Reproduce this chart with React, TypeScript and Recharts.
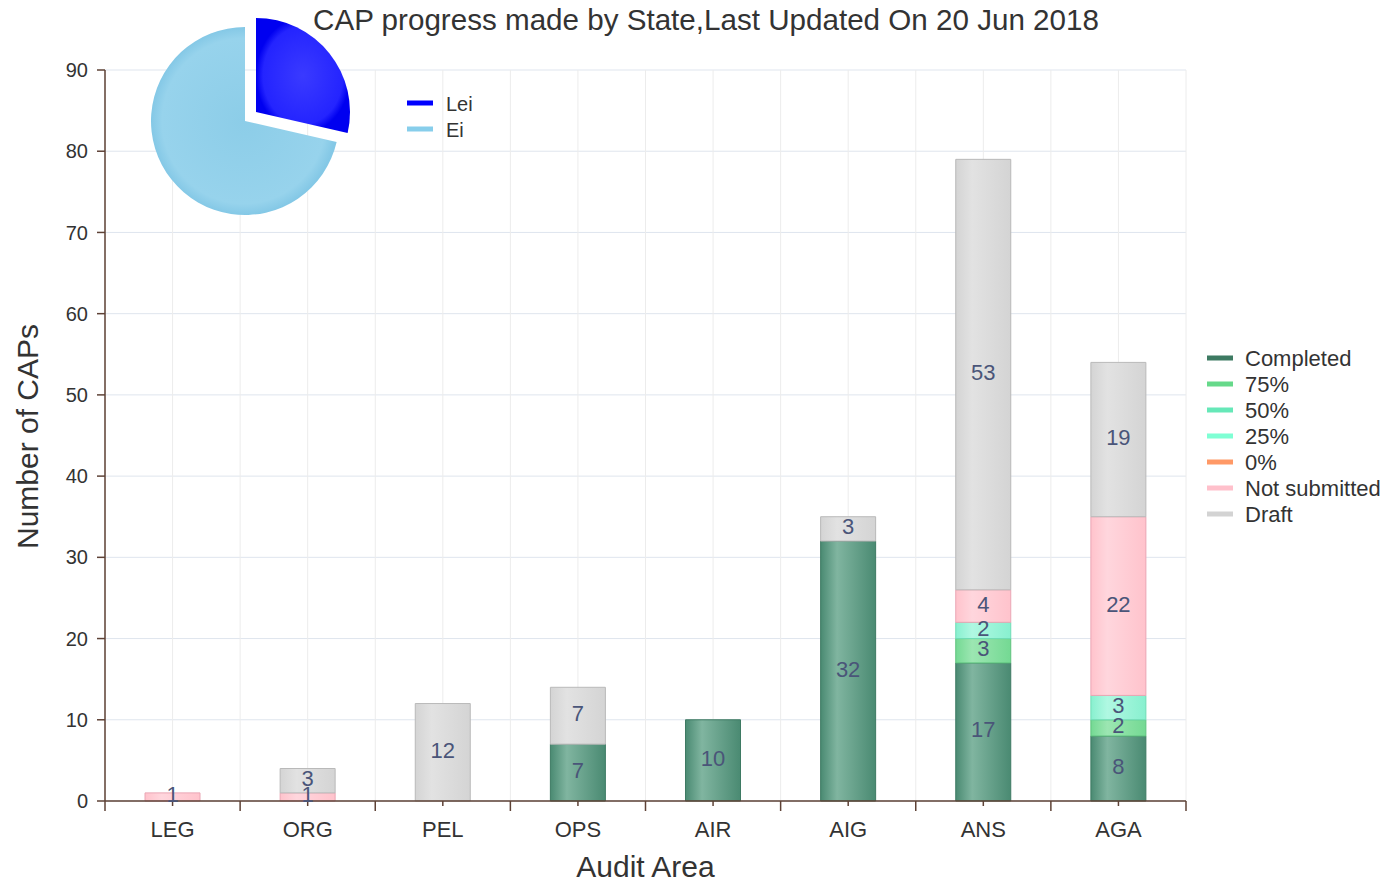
import React from 'react';
import { BarChart, Bar, XAxis, YAxis, CartesianGrid, LabelList, PieChart, Pie, Cell } from 'recharts';

const categories = ['LEG', 'ORG', 'PEL', 'OPS', 'AIR', 'AIG', 'ANS', 'AGA'];
const completed = [0, 0, 0, 7, 10, 32, 17, 8];
const pct75 = [0, 0, 0, 0, 0, 0, 3, 2];
const pct50 = [0, 0, 0, 0, 0, 0, 0, 0];
const pct25 = [0, 0, 0, 0, 0, 0, 2, 3];
const pct0 = [0, 0, 0, 0, 0, 0, 0, 0];
const notSubmitted = [1, 1, 0, 0, 0, 0, 4, 22];
const draft = [0, 3, 12, 7, 0, 3, 53, 19];

const seriesNames = ['Completed', '75%', '50%', '25%', '0%', 'Not submitted', 'Draft'];
const seriesKeys = ['completed', 'p75', 'p50', 'p25', 'p0', 'notSubmitted', 'draft'];
const seriesValues = [completed, pct75, pct50, pct25, pct0, notSubmitted, draft];
const seriesColors = ['#3d7a62', '#66d98a', '#66e8b8', '#7fffd4', '#ff9966', '#ffc0cb', '#d3d3d3'];
const seriesLight = ['#80b5a0', '#9ce6b2', '#9cefd0', '#b0f8e2', '#ffb891', '#ffd6dd', '#e2e2e2'];
const seriesBase = ['#4a8a72', '#74d993', '#70e6bc', '#88f0cf', '#ff9966', '#ffc3cc', '#d4d4d4'];
const seriesStroke = ['#3e7a63', '#5fc27e', '#5fd0a6', '#6fdcb6', '#e88555', '#eaa6b4', '#b9b9b9'];

const yTicks = [0, 10, 20, 30, 40, 50, 60, 70, 80, 90];

const pieNames = ['Lei', 'Ei'];
const pieValues = [2, 5];
const pieColors = ['#0000ff', '#87ceeb'];

const FONT = '"Liberation Sans", Arial, sans-serif';
const AXIS = '#5e4236';
const TEXT = '#333333';
const LABEL = '#4a5579';
const X_TICK_SIZE = 5;
const X_TICK_MARGIN = 15;
const EDGE_TICK = 10;

const table = categories.map((c, i) => {
  const row: any = { category: c };
  seriesKeys.forEach((k, j) => {
    const v = seriesValues[j][i];
    row[k] = v ? v : null;
  });
  return row;
});

const pieData = pieNames.map((n, i) => ({ name: n, value: pieValues[i] }));

const renderLabel = (props: any) => {
  const { value } = props;
  if (!value) return null;
  const vb = props.viewBox || {};
  const x = props.x ?? vb.x;
  const y = props.y ?? vb.y;
  const w = props.width ?? vb.width;
  const h = props.height ?? vb.height;
  return (
    <text
      x={x + w / 2}
      y={y + h / 2 - 2}
      textAnchor="middle"
      dominantBaseline="central"
      fill={LABEL}
      fontSize={22}
      fontFamily={FONT}
    >
      {value}
    </text>
  );
};

const XTick = (props: any) => {
  const { x, y, payload, index, visibleTicksCount } = props;
  const axisY = y - X_TICK_SIZE - X_TICK_MARGIN;
  const off = payload && typeof payload.offset === 'number' ? payload.offset : 0;
  const last = index === (visibleTicksCount ?? categories.length) - 1;
  return (
    <g>
      {off > 0 && (
        <line x1={x - off} y1={axisY} x2={x - off} y2={axisY + EDGE_TICK} stroke={AXIS} strokeWidth={1.5} />
      )}
      {off > 0 && last && (
        <line x1={x + off} y1={axisY} x2={x + off} y2={axisY + EDGE_TICK} stroke={AXIS} strokeWidth={1.5} />
      )}
      <text x={x} y={y} dy="0.71em" textAnchor="middle" fill={TEXT} fontSize={22} fontFamily={FONT}>
        {payload.value}
      </text>
    </g>
  );
};

const YLabel = (props: any) => {
  const vb = props.viewBox || { x: 0, y: 0, width: 0, height: 0 };
  const cx = vb.x + 27;
  const cy = vb.y + vb.height / 2 + 1;
  return (
    <text
      x={cx}
      y={cy}
      transform={`rotate(-90, ${cx}, ${cy})`}
      textAnchor="middle"
      dominantBaseline="central"
      fill={TEXT}
      fontSize={30}
      fontFamily={FONT}
    >
      Number of CAPs
    </text>
  );
};

export default function App() {
  return (
    <div style={{ position: 'absolute', left: 0, top: 0, width: 1385, height: 883, background: '#fff' }}>
      <div style={{ position: 'absolute', left: 0, top: 0 }}>
        <BarChart
          width={1385}
          height={883}
          data={table}
          margin={{ top: 70, right: 199, bottom: 0, left: 0 }}
          barSize={55}
        >
          <defs>
            {seriesKeys.map((k, j) => (
              <linearGradient key={k} id={`grad-${k}`} x1="0" y1="0" x2="1" y2="0">
                <stop offset="0%" stopColor={seriesBase[j]} />
                <stop offset="30%" stopColor={seriesLight[j]} />
                <stop offset="100%" stopColor={seriesBase[j]} />
              </linearGradient>
            ))}
          </defs>
          <CartesianGrid vertical={false} stroke="#dfe5ee" strokeWidth={1} />
          <CartesianGrid
            horizontal={false}
            stroke="#ececec"
            strokeWidth={1}
            verticalCoordinatesGenerator={({ offset }: any) =>
              Array.from(
                { length: categories.length * 2 + 1 },
                (_, i) => offset.left + (i * offset.width) / (categories.length * 2)
              )
            }
          />
          <XAxis
            dataKey="category"
            height={82}
            tickSize={X_TICK_SIZE}
            tickMargin={X_TICK_MARGIN}
            tick={<XTick />}
            tickLine={{ stroke: AXIS, strokeWidth: 1.5 }}
            axisLine={{ stroke: AXIS, strokeWidth: 1.5 }}
            interval={0}
            label={{ value: 'Audit Area', position: 'insideBottom', offset: 6, fill: TEXT, fontSize: 30, fontFamily: FONT }}
          />
          <YAxis
            width={105}
            domain={[0, 90]}
            ticks={yTicks}
            interval={0}
            tickSize={8}
            tickMargin={9}
            tick={{ fill: TEXT, fontSize: 20, fontFamily: FONT }}
            tickLine={{ stroke: AXIS, strokeWidth: 1.5 }}
            axisLine={{ stroke: AXIS, strokeWidth: 1.5 }}
            label={<YLabel />}
          />
          {seriesKeys.map((k, j) => (
            <Bar
              key={k}
              dataKey={k}
              name={seriesNames[j]}
              stackId="cap"
              fill={`url(#grad-${k})`}
              stroke={seriesStroke[j]}
              strokeWidth={1}
              isAnimationActive={false}
            >
              <LabelList dataKey={k} content={renderLabel} />
            </Bar>
          ))}
        </BarChart>
      </div>

      <div style={{ position: 'absolute', left: 130, top: 0 }}>
        <PieChart width={260} height={240} margin={{ top: 0, right: 0, bottom: 0, left: 0 }}>
          <defs>
            <radialGradient id="pie-lei" cx="50%" cy="50%" r="50%">
              <stop offset="0%" stopColor="#3a3aff" />
              <stop offset="85%" stopColor="#2424ff" />
              <stop offset="100%" stopColor="#0000f0" />
            </radialGradient>
            <radialGradient id="pie-ei" cx="50%" cy="50%" r="50%">
              <stop offset="0%" stopColor="#8ccde8" />
              <stop offset="88%" stopColor="#97d3ec" />
              <stop offset="100%" stopColor="#84c8e6" />
            </radialGradient>
          </defs>
          <Pie
            data={pieData}
            dataKey="value"
            nameKey="name"
            cx={126}
            cy={112}
            outerRadius={94}
            startAngle={90}
            endAngle={-270}
            stroke="none"
            isAnimationActive={false}
          >
            <Cell fill="url(#pie-lei)" />
            <Cell fill="transparent" />
          </Pie>
          <Pie
            data={pieData}
            dataKey="value"
            nameKey="name"
            cx={115}
            cy={121}
            outerRadius={94}
            startAngle={90}
            endAngle={-270}
            stroke="none"
            isAnimationActive={false}
          >
            <Cell fill="transparent" />
            <Cell fill="url(#pie-ei)" />
          </Pie>
        </PieChart>
      </div>

      <svg
        width={1385}
        height={883}
        style={{ position: 'absolute', left: 0, top: 0, pointerEvents: 'none' }}
        fontFamily={FONT}
      >
        <text x={706} y={30} textAnchor="middle" fill={TEXT} fontSize={29.6}>
          CAP progress made by State,Last Updated On 20 Jun 2018
        </text>
        {pieNames.map((n, i) => (
          <g key={n}>
            <rect x={407} y={100.5 + i * 26} width={26} height={5} fill={pieColors[i]} />
            <text x={446} y={111 + i * 26} fill={TEXT} fontSize={20}>
              {n}
            </text>
          </g>
        ))}
        {seriesNames.map((n, j) => (
          <g key={n}>
            <rect x={1207} y={355.5 + j * 26} width={26} height={5} fill={seriesColors[j]} />
            <text x={1245} y={365.5 + j * 26} fill={TEXT} fontSize={22}>
              {n}
            </text>
          </g>
        ))}
      </svg>
    </div>
  );
}
